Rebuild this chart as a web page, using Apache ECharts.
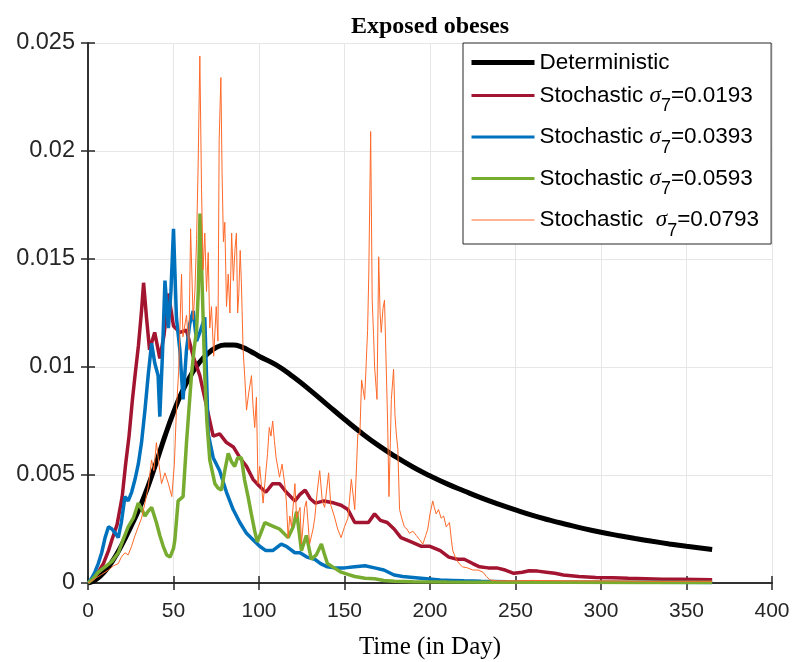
<!DOCTYPE html>
<html>
<head>
<meta charset="utf-8">
<script src="https://cdn.jsdelivr.net/npm/echarts@6/dist/echarts.min.js"></script>
<style>
  html, body { margin: 0; padding: 0; background: #fff; }
  #chart { width: 795px; height: 662px; }
</style>
</head>
<body>
<div id="chart"></div>
<script>
// tick labels
var xTicks = [0, 50, 100, 150, 200, 250, 300, 350, 400];
var yTickLabels = ['0', '0.005', '0.01', '0.015', '0.02', '0.025'];

var seriesNames = [
  'Deterministic',
  'Stochastic σ7=0.0193',
  'Stochastic σ7=0.0393',
  'Stochastic σ7=0.0593',
  'Stochastic  σ7=0.0793'
];
var seriesColors = ['#000000', '#A2142F', '#0072BD', '#77AC30', '#FF6929'];
var seriesWidths = [5, 3.5, 3.5, 3.5, 1];
var legendWidths = [5, 3, 3, 3, 1];

// deterministic solution, [day, value]
var deterministic = [
  [0, 0], [5, 0.00018], [10, 0.00055], [15, 0.0011], [20, 0.0018], [25, 0.0026],
  [30, 0.00345], [35, 0.00445], [40, 0.0056], [45, 0.0068], [50, 0.0079], [55, 0.00885],
  [60, 0.0096], [65, 0.0102], [70, 0.01062], [75, 0.0109], [80, 0.01102], [85, 0.01102],
  [90, 0.01092], [95, 0.01073], [100, 0.0105], [110, 0.0101], [120, 0.00955], [130, 0.00892],
  [140, 0.00825], [150, 0.00758], [160, 0.00694], [170, 0.00636], [180, 0.00584], [190, 0.00537],
  [200, 0.00496], [210, 0.00459], [220, 0.00426], [230, 0.00394], [240, 0.00365], [250, 0.00338],
  [260, 0.00313], [270, 0.00291], [280, 0.00271], [290, 0.00252], [300, 0.00235], [310, 0.0022],
  [320, 0.00206], [330, 0.00193], [340, 0.00181], [350, 0.0017], [365, 0.00155]
];

// sigma7 = 0.0193
var stoch1 = [
  [0, 0], [3, 0.0002], [6, 0.0005], [9, 0.0009], [12, 0.0015], [14, 0.002], [17, 0.0027],
  [20, 0.004], [22, 0.0055], [24, 0.0068], [26, 0.0085], [27.5, 0.0096], [29.5, 0.011],
  [31.3, 0.0126], [32.5, 0.0139], [34.2, 0.0123], [36, 0.0108], [39, 0.0116], [42, 0.0104],
  [44.5, 0.0115], [47, 0.0134], [50, 0.0119], [53.7, 0.0116], [57.6, 0.0117], [61.5, 0.0105],
  [65.4, 0.0096], [69.3, 0.0082], [73.2, 0.0068], [77, 0.0069], [81, 0.0065], [85, 0.0063],
  [88.8, 0.0058], [92.7, 0.0054], [96.5, 0.0048], [100, 0.0045], [104, 0.0042], [108, 0.0046],
  [112, 0.0046], [116, 0.0042], [121, 0.0038], [124, 0.0041], [127, 0.0043], [130, 0.0039],
  [133, 0.0037], [138, 0.0038], [144, 0.0037], [148, 0.0036], [152, 0.0034], [156, 0.0028],
  [160, 0.0028], [164, 0.0028], [167.6, 0.0032], [171, 0.0029], [175, 0.0028], [179, 0.0025],
  [183, 0.0021], [189, 0.0019], [195, 0.0017], [200, 0.0017], [206, 0.0015], [211, 0.0012],
  [216, 0.0011], [220, 0.0011], [225, 0.0009], [229, 0.00075], [234, 0.0007], [239, 0.0007],
  [244, 0.0006], [249, 0.00045], [254, 0.0005], [258, 0.00057], [263, 0.00055], [268, 0.0005],
  [273, 0.00045], [278, 0.00037], [287, 0.0003], [297, 0.00026], [307, 0.00024], [316, 0.00022],
  [326, 0.0002], [336, 0.00017], [346, 0.00017], [356, 0.00016], [365, 0.00015]
];

// sigma7 = 0.0393
var stoch2 = [
  [0, 0], [2, 0.0002], [4, 0.0005], [6, 0.0009], [8, 0.0014], [10, 0.0021], [12, 0.0026],
  [14, 0.0025], [16, 0.0023], [17.7, 0.0021], [19.5, 0.0028], [21.6, 0.004], [23.5, 0.0038],
  [25.5, 0.0042], [27.5, 0.0048], [29.4, 0.0055], [31.3, 0.0065], [33.3, 0.008], [35.3, 0.0097],
  [37.2, 0.0111], [39, 0.0102], [41, 0.0096], [42, 0.0077], [43.5, 0.0105], [45, 0.014],
  [47, 0.0118], [48.5, 0.0135], [50, 0.0164], [51.7, 0.0123], [53.7, 0.0108], [55.6, 0.0085],
  [57.6, 0.0108], [59.5, 0.012], [61.5, 0.0126], [63.5, 0.0112], [65.4, 0.0116], [68.3, 0.0123],
  [70.3, 0.0069], [73.2, 0.0058], [77, 0.0052], [81, 0.0042], [84.9, 0.0034], [88.8, 0.0028],
  [92.7, 0.0023], [96.5, 0.002], [100.4, 0.0017], [104, 0.0015], [108, 0.0015], [113, 0.0018],
  [116, 0.0017], [121, 0.0014], [124, 0.0014], [128, 0.0012], [132.6, 0.0011], [136, 0.0009],
  [140, 0.00075], [144, 0.0007], [150, 0.0007], [156, 0.00075], [162, 0.0008], [167.6, 0.0007],
  [173, 0.0006], [179, 0.00037], [184, 0.0003], [190, 0.00026], [198, 0.0002], [206, 0.00014],
  [213, 0.00012], [220, 0.0001], [230, 0.00008], [245, 0.00006], [260, 0.00005], [280, 0.00004],
  [300, 0.00003], [330, 0.00003], [365, 0.00002]
];

// sigma7 = 0.0593
var stoch3 = [
  [0, 0], [3, 0.0002], [6, 0.0005], [10, 0.00075], [14, 0.001], [17.7, 0.0014], [20.5, 0.002],
  [23.5, 0.0026], [26.5, 0.003], [29.4, 0.0037], [31.5, 0.0034], [33.3, 0.0031], [35, 0.0033],
  [37.2, 0.0035], [40, 0.0028], [42, 0.0022], [44, 0.0017], [46, 0.0013], [48, 0.0012],
  [50, 0.0016], [50.8, 0.002], [52.7, 0.0038], [55.6, 0.004], [57.6, 0.0065], [59, 0.008],
  [60.5, 0.0096], [62, 0.0108], [63.5, 0.0117], [64.5, 0.0135], [65.5, 0.0171], [66.5, 0.0145],
  [67.5, 0.0118], [68.3, 0.0096], [69.5, 0.0075], [71.2, 0.0057], [74.2, 0.0046], [76, 0.0044],
  [78, 0.0043], [80, 0.0052], [82, 0.006], [84, 0.0056], [85.8, 0.0054], [87.5, 0.0058],
  [89.7, 0.0058], [91.5, 0.0048], [93.6, 0.004], [95.5, 0.0032], [97.5, 0.0024], [99, 0.0019],
  [101, 0.0023], [103.4, 0.0028], [106, 0.0027], [109, 0.0026], [112, 0.0025], [117, 0.0021],
  [120, 0.0026], [122, 0.0033], [124.8, 0.0015], [127.7, 0.0022], [130.6, 0.0011], [133.5, 0.0013],
  [136.5, 0.0018], [138, 0.0014], [140, 0.0009], [144, 0.0007], [148, 0.0005], [152, 0.0004],
  [156, 0.0003], [162, 0.00022], [167.6, 0.0002], [173, 0.00012], [179, 0.00008], [190, 0.00006],
  [210, 0.00005], [240, 0.00004], [280, 0.00003], [320, 0.00002], [365, 0.00002]
];

// sigma7 = 0.0793
var stoch4 = [
  [0, 0], [4, 0.0002], [8, 0.0004], [12, 0.0006], [15, 0.0008], [17.7, 0.0009], [19.5, 0.0012],
  [21.6, 0.0014], [23.5, 0.0013], [25.5, 0.0017], [27.5, 0.0022], [29.4, 0.0026], [31.3, 0.003],
  [33.3, 0.0037], [35.3, 0.0045], [37.2, 0.0057], [38.5, 0.0052], [40, 0.0065], [41.5, 0.0055],
  [43, 0.0046], [45, 0.0051], [47, 0.0046], [49, 0.004], [50.5, 0.0055], [51.7, 0.008],
  [53, 0.0098], [54.7, 0.0143], [55.5, 0.0114], [57.6, 0.0124], [59, 0.0108], [60, 0.0164],
  [61.5, 0.0122], [62.5, 0.0135], [63.5, 0.0159], [64.4, 0.0193], [65.4, 0.0244], [66.4, 0.0182],
  [67.3, 0.0145], [68.3, 0.0162], [69.3, 0.0135], [70.3, 0.0153], [71.2, 0.0118], [72.2, 0.0128],
  [73.5, 0.0105], [75, 0.0128], [76, 0.0112], [76.7, 0.0205], [77.7, 0.0234], [78.4, 0.019],
  [79.2, 0.0158], [80, 0.0167], [81, 0.0128], [82, 0.0143], [83, 0.0125], [84, 0.0162],
  [85, 0.014], [86, 0.0155], [86.8, 0.0162], [87.5, 0.0125], [88.2, 0.0134], [89, 0.0154],
  [89.7, 0.0139], [90.7, 0.0108], [91.7, 0.0095], [92.7, 0.008], [94, 0.0088], [95.6, 0.0096],
  [96.5, 0.0082], [97.5, 0.0072], [98.5, 0.0086], [99.4, 0.0046], [100.4, 0.0054], [102.4, 0.0037],
  [103.4, 0.0046], [105, 0.006], [106, 0.0072], [107, 0.0068], [108, 0.0075], [109, 0.0066],
  [110, 0.0058], [112, 0.0049], [113.5, 0.0055], [115, 0.0046], [116, 0.0038], [117, 0.0021],
  [118, 0.0031], [119, 0.0026], [121, 0.0046], [122, 0.003], [124, 0.0035], [124.8, 0.0018],
  [126.7, 0.0035], [127.7, 0.0038], [129.6, 0.0018], [131.6, 0.0025], [132.6, 0.003], [134, 0.0042],
  [135.5, 0.0052], [137, 0.0038], [138.4, 0.0035], [140.7, 0.0051], [142, 0.0036], [144, 0.0031],
  [146, 0.0025], [148, 0.0021], [150, 0.0026], [152, 0.003], [154, 0.0048], [156, 0.0034],
  [157.8, 0.0069], [159, 0.0069], [160, 0.0094], [161.8, 0.0085], [162.7, 0.0102], [163.5, 0.0117],
  [164.2, 0.0143], [165.3, 0.0209], [166.2, 0.0131], [167, 0.0115], [167.6, 0.010], [169, 0.0085],
  [170, 0.0151], [170.8, 0.0125], [171.5, 0.0116], [172.5, 0.0127], [173.4, 0.0131], [174.4, 0.010],
  [175.2, 0.0075], [176, 0.004], [176.8, 0.0065], [177.4, 0.0085], [178.7, 0.0099], [179.5, 0.0078],
  [180.3, 0.0069], [181.2, 0.0062], [182.2, 0.0034], [183.5, 0.003], [185, 0.0026], [186.5, 0.0025],
  [188, 0.0023], [190, 0.0024], [192, 0.0022], [194, 0.002], [195.8, 0.0018], [197.5, 0.0022],
  [198.7, 0.0025], [200, 0.0032], [201.6, 0.0038], [202.5, 0.0035], [203.6, 0.0032], [205, 0.0034],
  [206.5, 0.003], [208, 0.0031], [209.5, 0.0026], [211.4, 0.0028], [212.5, 0.002], [213.3, 0.0015],
  [215.3, 0.0011], [217, 0.0009], [219, 0.00075], [222, 0.0007], [225, 0.0006], [228, 0.0006],
  [231, 0.0005], [233, 0.0003], [235, 0.00014], [240, 0.0001], [250, 0.0001], [260, 0.00012],
  [280, 0.0001], [300, 0.0001], [330, 0.00008], [365, 0.00008]
];

var myChart = echarts.init(document.getElementById('chart'), null, { renderer: 'canvas' });

var axisColor = '#262626';
var sansFont = '"Liberation Sans", Arial, sans-serif';
var serifFont = '"Liberation Serif", "Times New Roman", serif';

function lineSeries(i, data, smooth) {
  return {
    name: seriesNames[i],
    type: 'line',
    data: data,
    symbol: 'none',
    smooth: smooth,
    lineStyle: { color: seriesColors[i], width: seriesWidths[i] },
    itemStyle: { color: seriesColors[i] },
    emphasis: { disabled: true }
  };
}

// legend entries, line drawn as thick as in the plot, no marker
var legendData = seriesNames.map(function (name, i) {
  return { name: name, lineStyle: { width: legendWidths[i], color: seriesColors[i] } };
});

var option = {
  animation: false,
  backgroundColor: '#fff',
  title: {
    text: 'Exposed obeses',
    left: 346,
    top: 10,
    textStyle: { fontFamily: serifFont, fontWeight: 'bold', fontSize: 24, color: '#000' }
  },
  grid: {
    left: 88, right: 23, top: 43, bottom: 79,
    containLabel: false,
    outerBoundsMode: 'none'
  },
  legend: {
    orient: 'vertical',
    left: 463,
    top: 43,
    padding: [8, 12, 4, 6],
    itemGap: 10,
    itemWidth: 63,
    itemHeight: 12,
    backgroundColor: '#fff',
    borderColor: axisColor,
    borderWidth: 1,
    itemStyle: { opacity: 0, borderWidth: 0 },
    data: legendData,
    formatter: function (name) {
      return name.replace('σ7', '{sig|σ}{sub|7}');
    },
    textStyle: {
      fontFamily: sansFont,
      fontSize: 22.5,
      color: '#000',
      rich: {
        sig: { fontFamily: serifFont, fontStyle: 'italic', fontSize: 23, color: '#000' },
        sub: { fontFamily: sansFont, fontSize: 18, color: '#000', padding: [22, 0, 0, 0] }
      }
    }
  },
  xAxis: [{
    type: 'value',
    position: 'bottom',
    min: xTicks[0],
    max: xTicks[xTicks.length - 1],
    interval: 50,
    name: 'Time (in Day)',
    nameLocation: 'middle',
    nameGap: 52,
    nameTextStyle: { fontFamily: serifFont, fontSize: 25, color: '#000' },
    axisLine: { lineStyle: { color: axisColor, width: 1.5 } },
    axisTick: { inside: true, length: 7, lineStyle: { color: axisColor, width: 1.5 } },
    axisLabel: { fontFamily: sansFont, fontSize: 21, color: axisColor, margin: 18 },
    splitLine: { show: true, lineStyle: { color: '#e6e6e6', width: 1 } }
  }, {
    type: 'value',
    position: 'top',
    min: xTicks[0],
    max: xTicks[xTicks.length - 1],
    interval: 50,
    axisLine: { show: true, lineStyle: { color: axisColor, width: 1.5 } },
    axisTick: { show: true, inside: true, length: 7, lineStyle: { color: axisColor, width: 1.5 } },
    axisLabel: { show: false },
    splitLine: { show: false }
  }],
  yAxis: [{
    type: 'value',
    position: 'left',
    min: 0,
    max: 0.025,
    interval: 0.005,
    axisLine: { show: true, lineStyle: { color: axisColor, width: 1.5 } },
    axisTick: { show: true, inside: true, length: 7, lineStyle: { color: axisColor, width: 1.5 } },
    axisLabel: {
      fontFamily: sansFont, fontSize: 23.5, color: axisColor, margin: 13,
      formatter: function (v, i) { return yTickLabels[i]; }
    },
    splitLine: { show: true, lineStyle: { color: '#e6e6e6', width: 1 } }
  }, {
    type: 'value',
    position: 'right',
    min: 0,
    max: 0.025,
    interval: 0.005,
    axisLine: { show: true, lineStyle: { color: axisColor, width: 1.5 } },
    axisTick: { show: true, inside: true, length: 7, lineStyle: { color: axisColor, width: 1.5 } },
    axisLabel: { show: false },
    splitLine: { show: false }
  }],
  series: [
    lineSeries(0, deterministic, true),
    lineSeries(1, stoch1, false),
    lineSeries(2, stoch2, false),
    lineSeries(3, stoch3, false),
    lineSeries(4, stoch4, false)
  ]
};

myChart.setOption(option);
</script>
</body>
</html>
